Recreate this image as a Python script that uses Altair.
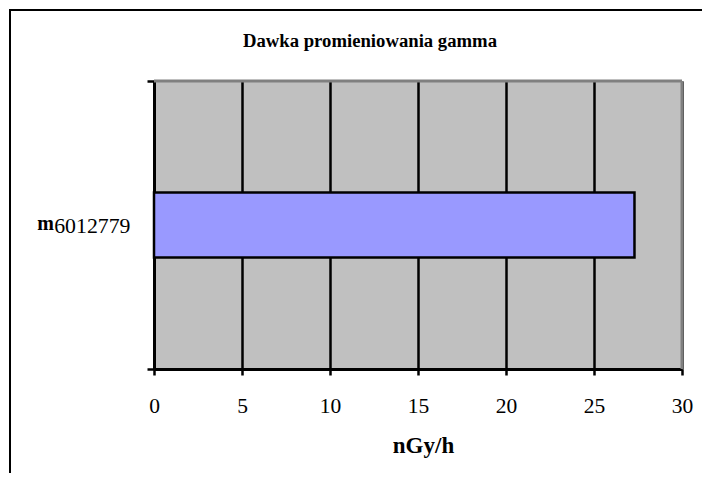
import altair as alt
import pandas as pd

# ---- data ----
stations = ["m6012779"]
doses = [27.3]
x_ticks = [0, 5, 10, 15, 20, 25, 30]
chart_title = "Dawka promieniowania gamma"
x_title = "nGy/h"
station_prefix = ["m"]

df = pd.DataFrame({"station": stations, "dose": doses, "prefix": station_prefix})
tdf = pd.DataFrame({"t": [chart_title]})

W, H = 528, 288
SERIF = "Liberation Serif"

base = alt.Chart(df)

x_enc = alt.X(
    "dose:Q",
    scale=alt.Scale(domain=[0, 30], nice=False),
    axis=alt.Axis(
        values=x_ticks, grid=True, gridColor="black", gridWidth=2.5, gridOpacity=1,
        domainColor="black", domainWidth=3, tickColor="black", tickWidth=2.5, tickSize=6,
        labelFont=SERIF, labelFontSize=21.5, labelColor="black", labelBaseline="alphabetic",
        labelPadding=37, labelFlush=False,
        title=x_title, titleFont=SERIF, titleFontSize=23, titleFontWeight="bold",
        titleColor="black", titleBaseline="alphabetic", titleY=83, titleX=269,
    ),
)
y_enc = alt.Y(
    "station:N",
    scale=alt.Scale(paddingInner=0, paddingOuter=0),
    axis=alt.Axis(
        tickBand="extent", grid=False, domainColor="black", domainWidth=3,
        tickColor="black", tickWidth=2.5, tickSize=7,
        labelFont=SERIF, labelFontSize=21.8, labelColor="black", labelPadding=17,
        labelExpr="slice(datum.label, 1)", title=None,
    ),
)

bars = base.mark_bar(
    color="#9999FF", stroke="black", strokeWidth=2.5, height={"band": 65 / 288}
).encode(x=x_enc, y=y_enc)

prefix = base.mark_text(
    font=SERIF, fontSize=20, fontWeight="bold", color="black",
    align="right", baseline="alphabetic", dy=5,
).encode(
    y=y_enc,
    x=alt.value(-100),
    text="prefix:N",
)

top_edge = base.mark_rule(color="#808080", strokeWidth=3).encode(
    x=alt.value(0), x2=alt.value(W), y=alt.value(0)
)
right_edge = base.mark_rule(color="#808080", strokeWidth=3).encode(
    x=alt.value(W), y=alt.value(0), y2=alt.value(H)
)

frame_top = base.mark_rule(color="black", strokeWidth=2).encode(
    x=alt.value(-145), x2=alt.value(700), y=alt.value(-71)
)
frame_left = base.mark_rule(color="black", strokeWidth=2).encode(
    x=alt.value(-144), y=alt.value(-72), y2=alt.value(600)
)

title = alt.Chart(tdf).mark_text(
    font=SERIF, fontSize=18.7, fontWeight="bold", color="black",
    align="center", baseline="alphabetic",
).encode(x=alt.value(216), y=alt.value(-34), text="t:N")

chart = (
    alt.layer(bars, prefix, top_edge, right_edge, frame_top, frame_left, title)
    .properties(
        width=W, height=H,
        autosize=alt.AutoSizeParams(type="none"),
        padding={"left": 146, "top": 73, "right": 20, "bottom": 104},
        background="white",
    )
    .configure_view(fill="#C0C0C0", stroke=None)
)

chart.save("out.html", embed_options={"renderer": "svg", "actions": False})
